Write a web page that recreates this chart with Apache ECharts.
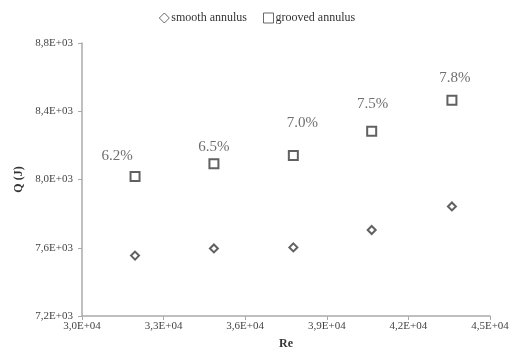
<!DOCTYPE html>
<html>
<head>
<meta charset="utf-8">
<script src="https://cdn.jsdelivr.net/npm/echarts@6/dist/echarts.min.js"></script>
<style>
html,body{margin:0;padding:0;background:#fff;}
#chart{width:514px;height:356px;}
</style>
</head>
<body>
<div id="chart"></div>
<script>
// Data
var reValues = [31950, 34850, 37770, 40650, 43600];
var smoothQ = [7554, 7596, 7602, 7704, 7842];
var groovedQ = [8018, 8092, 8141, 8283, 8465];
var increaseLabels = ['6.2%', '6.5%', '7.0%', '7.5%', '7.8%'];
var xTickLabels = ['3,0E+04', '3,3E+04', '3,6E+04', '3,9E+04', '4,2E+04', '4,5E+04'];
var yTickLabels = ['7,2E+03', '7,6E+03', '8,0E+03', '8,4E+03', '8,8E+03'];

var labelOffsets = [[-18, -2], [0, 1], [9, -14], [1, -9], [3, -4]];
var serif = '"Liberation Serif", "DejaVu Serif", serif';

var chart = echarts.init(document.getElementById('chart'));

var smoothData = reValues.map(function (r, i) { return [r, smoothQ[i]]; });
var groovedData = reValues.map(function (r, i) {
  return {
    value: [r, groovedQ[i]],
    label: {
      show: true,
      position: 'top',
      offset: labelOffsets[i],
      formatter: increaseLabels[i],
      fontFamily: serif,
      fontSize: 15,
      color: '#4a4a4a'
    }
  };
});

var option = {
  animation: false,
  backgroundColor: '#fff',
  legend: {
    top: 7,
    left: 'center',
    itemWidth: 10,
    itemHeight: 10,
    itemGap: 16,
    textStyle: { fontFamily: serif, fontSize: 12, color: '#333', padding: [0, 0, 0, -3] },
    data: [
      { name: 'smooth annulus', icon: 'diamond', itemStyle: { color: '#fff', borderColor: '#444', borderWidth: 1 } },
      { name: 'grooved annulus', icon: 'rect', itemStyle: { color: '#fff', borderColor: '#444', borderWidth: 1 } }
    ]
  },
  grid: { left: 82, right: 24, top: 43, bottom: 40 },
  xAxis: {
    type: 'value',
    min: 30000, max: 45000, interval: 3000,
    name: 'Re', nameLocation: 'middle', nameGap: 22,
    nameTextStyle: { fontFamily: serif, fontSize: 12, fontWeight: 'bold', color: '#333' },
    axisLine: { show: true, lineStyle: { color: '#aaaaaa', width: 1.5 } },
    axisTick: { show: true, length: 4, lineStyle: { color: '#aaaaaa' } },
    splitLine: { show: false },
    axisLabel: {
      fontFamily: serif, fontSize: 11, color: '#444', margin: 5,
      formatter: function (v) { return xTickLabels[Math.round((v - 30000) / 3000)]; }
    }
  },
  yAxis: {
    type: 'value',
    min: 7200, max: 8800, interval: 400,
    name: 'Q (J)', nameLocation: 'middle', nameGap: 55, nameRotate: 90,
    nameTextStyle: { fontFamily: serif, fontSize: 12, fontWeight: 'bold', color: '#333' },
    axisLine: { show: true, lineStyle: { color: '#aaaaaa', width: 1.5 } },
    axisTick: { show: true, length: 4, lineStyle: { color: '#aaaaaa' } },
    splitLine: { show: false },
    axisLabel: {
      fontFamily: serif, fontSize: 11, color: '#444', margin: 9,
      formatter: function (v) { return yTickLabels[Math.round((v - 7200) / 400)]; }
    }
  },
  series: [
    {
      name: 'smooth annulus',
      type: 'scatter',
      symbol: 'diamond',
      symbolSize: 8,
      itemStyle: { color: '#fff', borderColor: '#3a3a3a', borderWidth: 2 },
      data: smoothData
    },
    {
      name: 'grooved annulus',
      type: 'scatter',
      symbol: 'rect',
      symbolSize: 9,
      itemStyle: { color: '#fff', borderColor: '#3a3a3a', borderWidth: 2 },
      data: groovedData
    }
  ]
};

chart.setOption(option);
</script>
</body>
</html>
